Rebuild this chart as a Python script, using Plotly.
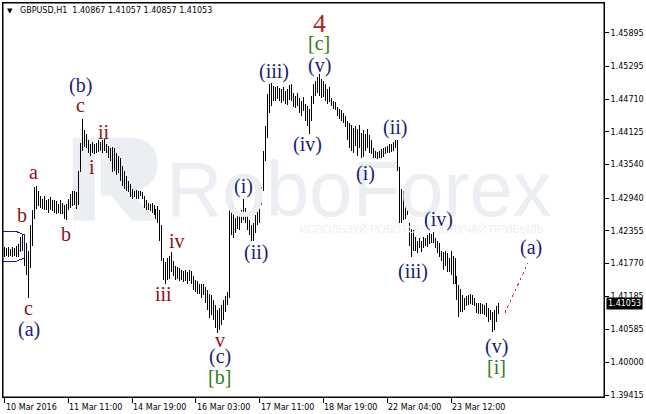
import plotly.graph_objects as go

symbol = "GBPUSD,H1"
last_ohlc = ["1.40867", "1.41057", "1.40857", "1.41053"]
last_close = 1.41053

highs = [
    1.4206, 1.4204, 1.4207, 1.4202, 1.4206, 1.4204, 1.4209, 1.4211, 1.4225, 1.4229,
    1.4222, 1.4213, 1.4200, 1.4245, 1.4272, 1.4314, 1.4316, 1.4307, 1.4297, 1.4293,
    1.4297, 1.4291, 1.4293, 1.4295, 1.4290, 1.4291, 1.4288, 1.4284, 1.4290, 1.4286,
    1.4281, 1.4284, 1.4293, 1.4302, 1.4307, 1.4307, 1.4304, 1.4343, 1.4393, 1.4436,
    1.4415, 1.4409, 1.4397, 1.4391, 1.4395, 1.4391, 1.4393, 1.4397, 1.4395, 1.4397,
    1.4399, 1.4391, 1.4388, 1.4384, 1.4386, 1.4383, 1.4375, 1.4370, 1.4365, 1.4352,
    1.4343, 1.4334, 1.4325, 1.4320, 1.4311, 1.4307, 1.4309, 1.4306, 1.4307, 1.4304,
    1.4298, 1.4290, 1.4286, 1.4284, 1.4286, 1.4281, 1.4275, 1.4279, 1.4272, 1.4245,
    1.4186, 1.4179, 1.4186, 1.4191, 1.4197, 1.4182, 1.4173, 1.4170, 1.4168, 1.4165,
    1.4163, 1.4165, 1.4161, 1.4165, 1.4163, 1.4154, 1.4148, 1.4145, 1.4141, 1.4140,
    1.4141, 1.4134, 1.4129, 1.4123, 1.4120, 1.4111, 1.4102, 1.4093, 1.4097, 1.4102,
    1.4111, 1.4118, 1.4125, 1.4275, 1.4272, 1.4266, 1.4259, 1.4268, 1.4263, 1.4272,
    1.4293, 1.4277, 1.4266, 1.4254, 1.4245, 1.4250, 1.4263, 1.4281, 1.4298, 1.4313,
    1.4379, 1.4423, 1.4480, 1.4498, 1.4500, 1.4495, 1.4493, 1.4495, 1.4491, 1.4489,
    1.4493, 1.4486, 1.4489, 1.4497, 1.4498, 1.4482, 1.4477, 1.4482, 1.4473, 1.4468,
    1.4475, 1.4463, 1.4459, 1.4454, 1.4477, 1.4498, 1.4504, 1.4511, 1.4516, 1.4507,
    1.4504, 1.4498, 1.4489, 1.4493, 1.4473, 1.4468, 1.4466, 1.4457, 1.4454, 1.4452,
    1.4447, 1.4441, 1.4432, 1.4429, 1.4425, 1.4420, 1.4423, 1.4418, 1.4425, 1.4411,
    1.4415, 1.4409, 1.4418, 1.4406, 1.4397, 1.4383, 1.4379, 1.4377, 1.4379, 1.4381,
    1.4383, 1.4386, 1.4388, 1.4391, 1.4390, 1.4395, 1.4397, 1.4397, 1.4349, 1.4311,
    1.4307, 1.4302, 1.4297, 1.4250, 1.4239, 1.4236, 1.4225, 1.4218, 1.4222, 1.4218,
    1.4225, 1.4223, 1.4227, 1.4231, 1.4229, 1.4234, 1.4223, 1.4218, 1.4213, 1.4200,
    1.4197, 1.4200, 1.4195, 1.4186, 1.4200, 1.4191, 1.4186, 1.4154, 1.4138, 1.4132,
    1.4120, 1.4115, 1.4118, 1.4120, 1.4122, 1.4120, 1.4115, 1.4107, 1.4106, 1.4107,
    1.4104, 1.4102, 1.4106, 1.4098, 1.4093, 1.4090, 1.4093, 1.4100, 1.41057,
]

lows = [
    1.4189, 1.4191, 1.4188, 1.4191, 1.4189, 1.4191, 1.4188, 1.4189, 1.4197, 1.4200,
    1.4173, 1.4156, 1.4116, 1.4168, 1.4209, 1.4257, 1.4275, 1.4279, 1.4277, 1.4274,
    1.4272, 1.4272, 1.4268, 1.4272, 1.4270, 1.4268, 1.4266, 1.4268, 1.4265, 1.4266,
    1.4257, 1.4254, 1.4272, 1.4277, 1.4279, 1.4282, 1.4275, 1.4281, 1.4340, 1.4379,
    1.4386, 1.4383, 1.4374, 1.4370, 1.4375, 1.4372, 1.4375, 1.4377, 1.4379, 1.4375,
    1.4379, 1.4374, 1.4366, 1.4361, 1.4340, 1.4343, 1.4336, 1.4338, 1.4325, 1.4316,
    1.4311, 1.4307, 1.4304, 1.4295, 1.4293, 1.4295, 1.4293, 1.4293, 1.4297, 1.4293,
    1.4277, 1.4272, 1.4272, 1.4270, 1.4268, 1.4263, 1.4257, 1.4250, 1.4218, 1.4182,
    1.4147, 1.4141, 1.4147, 1.4150, 1.4161, 1.4154, 1.4147, 1.4150, 1.4145, 1.4147,
    1.4143, 1.4145, 1.4141, 1.4145, 1.4140, 1.4129, 1.4125, 1.4123, 1.4122, 1.4116,
    1.4120, 1.4107, 1.4093, 1.4079, 1.4084, 1.4075, 1.4061, 1.4052, 1.4058, 1.4066,
    1.4075, 1.4090, 1.4102, 1.4116, 1.4227, 1.4222, 1.4232, 1.4239, 1.4236, 1.4250,
    1.4254, 1.4250, 1.4236, 1.4227, 1.4218, 1.4218, 1.4232, 1.4245, 1.4250, 1.4281,
    1.4307, 1.4361, 1.4402, 1.4447, 1.4459, 1.4468, 1.4468, 1.4472, 1.4468, 1.4464,
    1.4468, 1.4463, 1.4461, 1.4470, 1.4468, 1.4457, 1.4456, 1.4459, 1.4447, 1.4441,
    1.4450, 1.4432, 1.4423, 1.4409, 1.4432, 1.4463, 1.4477, 1.4482, 1.4477, 1.4473,
    1.4475, 1.4468, 1.4463, 1.4466, 1.4459, 1.4454, 1.4452, 1.4441, 1.4436, 1.4432,
    1.4429, 1.4422, 1.4397, 1.4383, 1.4379, 1.4375, 1.4388, 1.4370, 1.4383, 1.4365,
    1.4368, 1.4379, 1.4383, 1.4375, 1.4372, 1.4366, 1.4365, 1.4363, 1.4365, 1.4366,
    1.4368, 1.4372, 1.4374, 1.4375, 1.4377, 1.4379, 1.4383, 1.4343, 1.4250, 1.4250,
    1.4254, 1.4257, 1.4263, 1.4209, 1.4188, 1.4200, 1.4200, 1.4195, 1.4204, 1.4197,
    1.4204, 1.4209, 1.4207, 1.4211, 1.4213, 1.4214, 1.4204, 1.4195, 1.4188, 1.4182,
    1.4165, 1.4173, 1.4161, 1.4161, 1.4156, 1.4141, 1.4141, 1.4111, 1.4081, 1.4090,
    1.4090, 1.4093, 1.4100, 1.4102, 1.4104, 1.4102, 1.4100, 1.4088, 1.4086, 1.4086,
    1.4086, 1.4084, 1.4082, 1.4072, 1.4075, 1.4054, 1.4058, 1.4072, 1.40857,
]

x_tick_idx = [0, 32, 64, 96, 128, 160, 192, 224]
x_tick_labels = ["10 Mar 2016", "11 Mar 11:00", "14 Mar 19:00", "16 Mar 03:00",
                 "17 Mar 11:00", "18 Mar 19:00", "22 Mar 04:00", "23 Mar 12:00"]
y_ticks = [1.45895, 1.45295, 1.44710, 1.44125, 1.43540, 1.42940,
           1.42355, 1.41770, 1.41185, 1.40585, 1.40000, 1.39415]

NAVY = "#1c1c78"
RED = "#8b1414"
GREEN = "#2f7d12"
BROWN = "#a02a22"

# wave labels: text, bar index, price, color, size
wave_labels = [
    ("(b)", 38, 1.4495, NAVY, 20), ("c", 38, 1.4461, RED, 20),
    ("ii", 50, 1.4413, RED, 20), ("i", 44, 1.4349, RED, 20),
    ("a", 14.5, 1.4341, RED, 20), ("b", 9, 1.4263, RED, 20),
    ("b", 31, 1.4229, RED, 20), ("c", 12, 1.4098, RED, 20),
    ("(a)", 12.5, 1.4059, NAVY, 20),
    ("iv", 86.5, 1.4218, RED, 20), ("iii", 80, 1.4123, RED, 20),
    ("v", 108, 1.4040, RED, 20), ("(c)", 108, 1.4011, NAVY, 20),
    ("[b]", 108, 1.3973, GREEN, 20),
    ("4", 158, 1.4607, BROWN, 26), ("[c]", 158, 1.4571, GREEN, 20),
    ("(v)", 158, 1.4532, NAVY, 20), ("(iii)", 135, 1.4520, NAVY, 20),
    ("(iv)", 152, 1.4389, NAVY, 20), ("(ii)", 196, 1.4420, NAVY, 20),
    ("(i)", 120, 1.4314, NAVY, 20), ("(ii)", 126, 1.4197, NAVY, 20),
    ("(i)", 181, 1.4338, NAVY, 20), ("(iv)", 217.5, 1.4256, NAVY, 20),
    ("(iii)", 205, 1.4163, NAVY, 20), ("(a)", 264, 1.4206, NAVY, 20),
    ("(v)", 247, 1.4029, NAVY, 20), ("[i]", 247, 1.3992, GREEN, 20),
]

xs, ys = [], []
for i, (h, l) in enumerate(zip(highs, lows)):
    xs += [i, i, None]
    ys += [l, h, None]

fig = go.Figure()
fig.add_trace(go.Scatter(x=xs, y=ys, mode="lines",
                         line=dict(color="black", width=1),
                         hoverinfo="skip", showlegend=False))

# forecast dotted line
fig.add_trace(go.Scatter(x=[251, 262.5], y=[1.4088, 1.4177], mode="lines",
                         line=dict(color="#e0284e", width=1, dash="dot"),
                         hoverinfo="skip", showlegend=False))

# blue box object at left
fig.add_trace(go.Scatter(
    x=[-1, 6, 10, 10, 6, -1],
    y=[1.4234, 1.4234, 1.4228, 1.4187, 1.4181, 1.4181],
    mode="lines", line=dict(color="#1a1a70", width=1),
    hoverinfo="skip", showlegend=False))

WM = "#ebeef2"
ann = []
# watermark
ann.append(dict(text="RoboForex", xref="paper", yref="paper",
                x=(359 - 2) / 603, y=(397 - 188) / 395, showarrow=False,
                font=dict(family="Liberation Sans, Arial", size=78, color=WM),
                xanchor="center", yanchor="middle"))
ann.append(dict(text="ИСПОЛЬЗУЙ РОБОТОВ - ПОЛУЧАЙ ПРИБЫЛЬ", xref="paper", yref="paper",
                x=(422 - 2) / 603, y=(397 - 229) / 395, showarrow=False,
                font=dict(family="Liberation Sans, Arial", size=11, color="#eceff3"),
                xanchor="center", yanchor="middle"))

for t, xi, p, c, s in wave_labels:
    ann.append(dict(text=t, x=xi, y=p, xref="x", yref="y", showarrow=False,
                    font=dict(family="Liberation Serif, Times New Roman, serif", size=s, color=c),
                    xanchor="center", yanchor="middle"))

# x tick labels (left-aligned after each tick, as in the terminal)
for xi, lab in zip(x_tick_idx, x_tick_labels):
    ann.append(dict(text=lab, x=xi, y=0, xref="x", yref="paper", showarrow=False,
                    xanchor="left", yanchor="top", xshift=-1, yshift=-4,
                    font=dict(family="DejaVu Sans", size=8, color="black")))

# header
ann.append(dict(text="▼", xref="paper", yref="paper", x=(9 - 2) / 603, y=(397 - 10) / 395,
                showarrow=False, font=dict(family="DejaVu Sans", size=7, color="black"),
                xanchor="center", yanchor="middle"))
ann.append(dict(text=symbol + "  " + " ".join(last_ohlc), xref="paper", yref="paper",
                x=(17 - 2) / 603, y=(397 - 10) / 395, showarrow=False,
                font=dict(family="DejaVu Sans", size=8, color="black"),
                xanchor="left", yanchor="middle"))
# current price box
ann.append(dict(text="1.41053", xref="paper", yref="y", x=1, y=last_close, xshift=2,
                showarrow=False, bgcolor="black", borderpad=1,
                font=dict(family="DejaVu Sans", size=8, color="white"),
                xanchor="left", yanchor="middle"))

shapes = [
    # logo mark of the watermark
    dict(type="rect", xref="paper", yref="paper", layer="below",
         x0=(72 - 2) / 603, x1=(94 - 2) / 603, y0=(397 - 220) / 395, y1=(397 - 137) / 395,
         line=dict(width=0), fillcolor=WM),
    dict(type="path", xref="paper", yref="paper", layer="below",
         path=("M {a},{b} L {c},{b} Q {d},{b} {d},{e} Q {d},{f} {c},{f} L {g},{h} L {i},{h} "
               "L {j},{k} L {a},{k} Z").format(
             a=(100 - 2) / 603, b=(397 - 137) / 395, c=(128 - 2) / 603, d=(157 - 2) / 603,
             e=(397 - 163) / 395, f=(397 - 190) / 395, g=(157 - 2) / 603, h=(397 - 220) / 395,
             i=(132 - 2) / 603, j=(110 - 2) / 603, k=(397 - 195) / 395),
         line=dict(width=0), fillcolor=WM),
    dict(type="rect", xref="paper", yref="paper", x0=0, x1=1, y0=0, y1=1,
         line=dict(color="black", width=1), layer="above"),
]

fig.update_layout(
    width=646, height=414, autosize=False,
    margin=dict(l=2, r=41, t=2, b=17),
    paper_bgcolor="white", plot_bgcolor="white",
    annotations=ann, shapes=shapes, showlegend=False,
    xaxis=dict(range=[-0.75, 300.75], showgrid=False, zeroline=False,
               showline=True, linecolor="black", linewidth=1, mirror=True,
               ticks="outside", ticklen=5, tickcolor="black",
               tickvals=x_tick_idx, showticklabels=False),
    yaxis=dict(range=[1.3937955, 1.464303], side="right", showgrid=False, zeroline=False,
               showline=True, linecolor="black", linewidth=1, mirror=True,
               ticks="outside", ticklen=4, tickcolor="black",
               tickvals=y_ticks, ticktext=[f"{v:.5f}" for v in y_ticks],
               tickfont=dict(family="DejaVu Sans", size=8, color="black")),
)

fig.write_html(
    "out.html",
    config={"displayModeBar": False},
    post_script=(
        "document.body.style.margin='0px';document.body.style.overflow='hidden';"
        "document.querySelectorAll('.scatterlayer path').forEach(function(p){p.style.shapeRendering='crispEdges';});"
    ),
)
